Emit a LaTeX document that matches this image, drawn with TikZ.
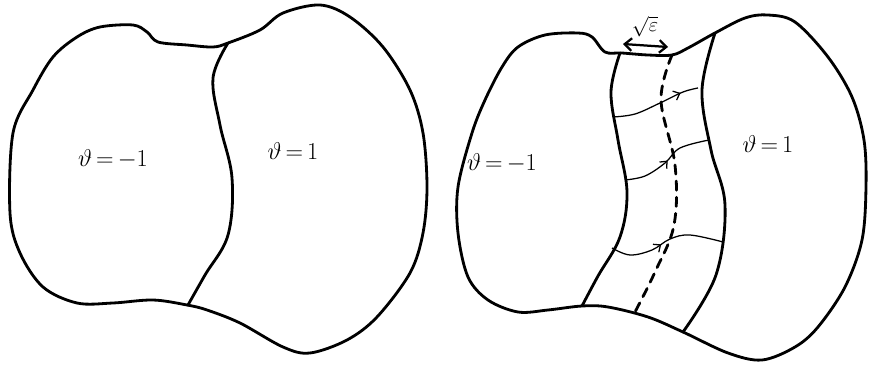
\documentclass[tikz,border=0pt]{standalone}
\usepackage{amsmath, amssymb}
\usepackage{tikz}
\usetikzlibrary{arrows.meta, decorations.markings}

\tikzset{
  outline/.style={line width=2pt, line join=round, line cap=round},
  flow/.style={line width=0.9pt, postaction={decorate},
    decoration={markings, mark=at position #1 with {\arrow{Straight Barb[length=4pt, width=7pt]}}}},
  label/.style={font=\fontsize{18}{22}\selectfont},
}

\begin{document}
\begin{tikzpicture}[x=0.025cm, y=-0.025cm]
  \useasboundingbox (0,0) rectangle (869,367);
  % left domain
  \draw[outline] plot[smooth cycle, tension=0.55] coordinates {
    (77,37) (100,27) (133,25) (147,32) (158,42) (187,45) (213,47) (228,43)
    (260,30) (283,13) (320,5) (350,17) (383,47) (410,90) (423,133) (427,187)
    (423,233) (410,273) (377,317) (347,340) (310,353) (283,347) (240,323)
    (207,310) (187,305) (153,300) (113,303) (77,303) (43,287) (20,253)
    (10,213) (13,133) (33,90) (53,57)};
  % sharp interface
  \draw[outline] plot[smooth, tension=0.6] coordinates {
    (228,43) (213,78) (220,125) (232,178) (228,235) (205,275) (188,305)};
  \node[label] (lminus) at (113,159) {$\vartheta\,{=}\,{-}1$};
  \node[label] (lplus) at (293,151) {$\vartheta\,{=}\,1$};

  % right domain
  \draw[outline] plot[smooth cycle, tension=0.55] coordinates {
    (518,47) (545,35) (578,33) (592,37) (605,52) (622,53) (648,55) (672,55)
    (688,48) (715,33) (745,18) (768,15) (795,22) (828,57) (852,97) (864,140)
    (866,187) (862,240) (845,287) (818,327) (795,347) (762,360) (728,353)
    (683,332) (648,317) (608,307) (582,306) (548,310) (518,312) (488,300)
    (468,277) (458,233) (458,187) (472,133) (485,100) (502,67)};
  % diffuse layer
  \draw[outline] plot[smooth, tension=0.6] coordinates {
    (620,53) (611,92) (618,140) (627,192) (620,237) (598,276) (582,306)};
  \draw[outline] plot[smooth, tension=0.6] coordinates {
    (715,33) (702,90) (711,150) (725,205) (716,275) (683,332)};
  \draw[outline, dash pattern=on 6.5pt off 5pt] plot[smooth, tension=0.6] coordinates {
    (672,55) (661,100) (675,165) (674,225) (655,272) (635,312)};
  % flow lines
  \draw[flow=0.8] plot[smooth, tension=0.6] coordinates {(613,117) (635,114) (660,103) (683,92) (698,88)};
  \draw[flow=0.5] plot[smooth, tension=0.6] coordinates {(625,180) (645,176) (665,163) (680,148) (709,140)};
  \draw[flow=0.45] plot[smooth, tension=0.6] coordinates {(612,248) (630,255) (652,250) (670,239) (690,235) (723,242)};
  % width of the layer
  \coordinate (wl) at (623,44);
  \coordinate (wr) at (668,47);
  \draw[line width=1.6pt, {Straight Barb[length=5pt, width=9pt]}-{Straight Barb[length=5pt, width=9pt]}] (wl) -- (wr);
  \node[font=\fontsize{15}{18}\selectfont, inner sep=0pt, anchor=base] (eps) at (645,32) {$\sqrt{\varepsilon}$};
  \node[label] (rminus) at (502,163) {$\vartheta\,{=}\,{-}1$};
  \node[label] (rplus) at (768,144) {$\vartheta\,{=}\,1$};
\end{tikzpicture}
\end{document}
